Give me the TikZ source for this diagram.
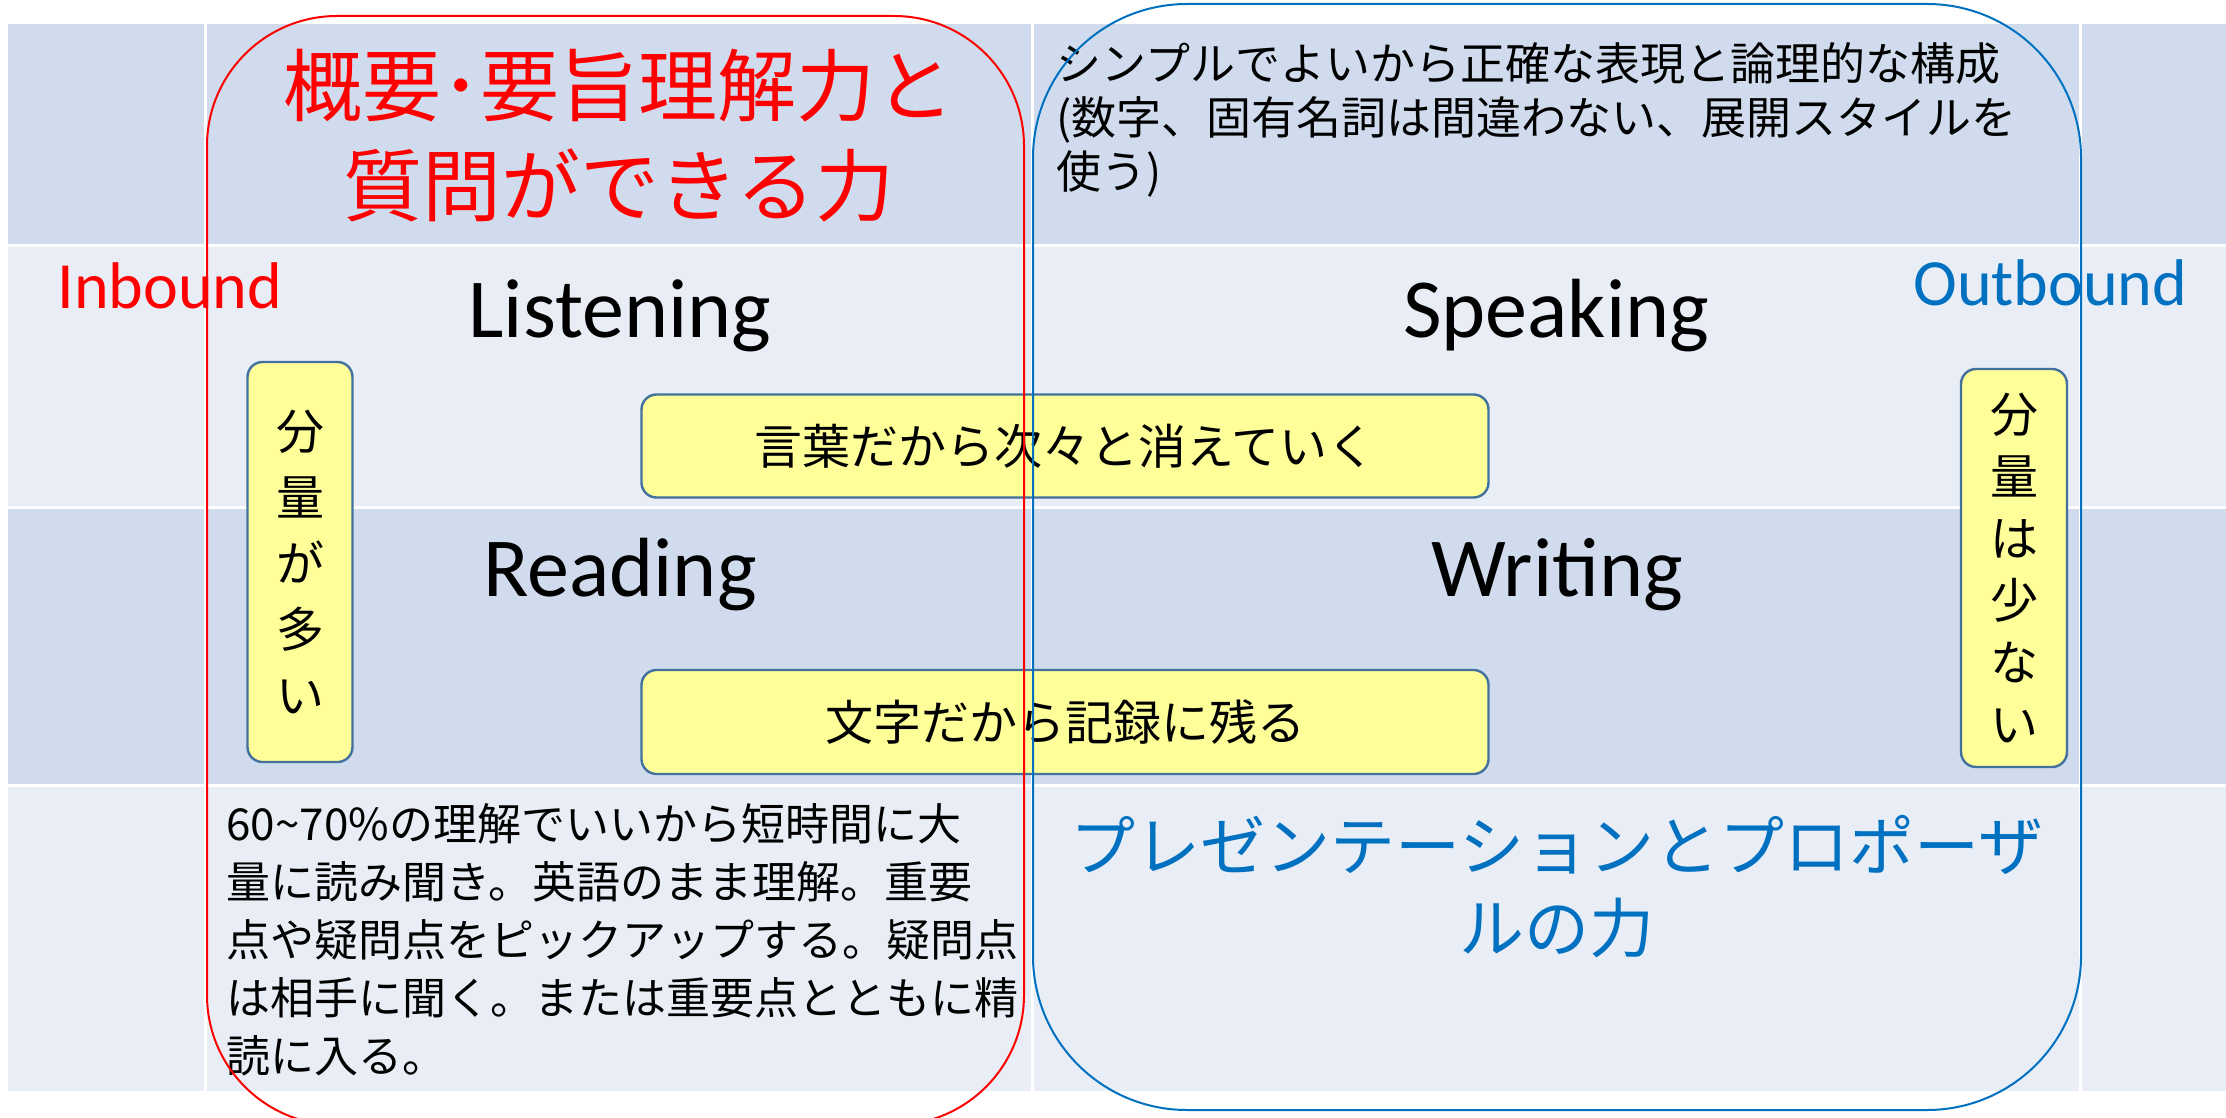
\documentclass[tikz,border=0pt]{standalone}
\usepackage{fontspec}
\setmainfont{Carlito}
\newfontfamily\jp{Noto Sans CJK JP}
\definecolor{bandDark}{HTML}{D0DCEE}
\definecolor{bandLight}{HTML}{E9EEF6}
\definecolor{noteYellow}{HTML}{FFFF99}
\definecolor{noteEdge}{HTML}{41719C}
\definecolor{outBlue}{HTML}{0070C0}
\tikzset{
	%	cell/.style={draw=white,thick},
	grid line/.style={draw=white, line width=1.5pt},
	note/.style={draw=noteEdge, fill=noteYellow, rounded corners=7.5pt, line width=1.2pt,
		font=\jp\fontsize{24}{30}\selectfont},
	skill/.style={font=\fontsize{42}{50}\selectfont, inner sep=0pt, anchor=base},
	way/.style={font=\fontsize{33}{40}\selectfont, inner sep=0pt, anchor=base west},
	ring/.style={line width=1pt}
}

\begin{document}
\begin{tikzpicture}[x=0.5pt, y=-0.5pt]
		\useasboundingbox (0,0) rectangle (2226,1118);
		
		% table
		\fill[bandDark] (8,24) rectangle (2226,246);
		\fill[bandLight] (8,246) rectangle (2226,507);
		\fill[bandDark] (8,507) rectangle (2226,785);
		\fill[bandLight] (8,785) rectangle (2226,1091);
		\foreach \y in {246,507,785} \draw[grid line] (8,\y) -- (2226,\y);
		\foreach \x in {205,1032,2080} \draw[grid line] (\x,24) -- (\x,1091);
		
		\node[skill] (listen) at (620,337) {Listening};
		\node[skill] (speak) at (1556,337) {Speaking};
		\node[skill] (read) at (620,596) {Reading};
		\node[skill] (write) at (1557,596) {Writing};
		
		\node[way, red] (inb) at (57,308) {Inbound};
		\node[way, outBlue] (outb) at (1913,306) {Outbound};
		
		\node[note, minimum width=423.5pt, minimum height=51.5pt] (vanish) at (1065,446) {言葉だから次々と消えていく};
		\node[note, minimum width=423.5pt, minimum height=52pt] (remain) at (1065,722) {文字だから記録に残る};
		\node[note, minimum width=52.5pt, minimum height=200pt, align=center,
			font=\jp\fontsize{24}{33}\selectfont] (much) at (300,562) {分\\量\\が\\多\\い};
		\node[note, minimum width=53pt, minimum height=199pt, align=center,
			font=\jp\fontsize{24}{31}\selectfont] (little) at (2014,568) {分\\量\\は\\少\\な\\い};
		
		\node[red, align=center, inner sep=0pt, font=\jp\fontsize{39.5}{50}\selectfont] (grasp) at (619,136) {概要･要旨理解力と\\質問ができる力};
		\node[outBlue, align=center, inner sep=0pt, font=\jp\fontsize{32.5}{41}\selectfont] (present) at (1557,887) {プレゼンテーションとプロポーザ\\ルの力};
		\node[anchor=west, align=left, inner sep=0pt, font=\jp\fontsize{22.5}{27}\selectfont] (exact) at (1056,120) {シンプルでよいから正確な表現と論理的な構成\\(数字、固有名詞は間違わない、展開スタイルを\\使う)};
		\node[anchor=west, align=left, inner sep=0pt, font=\jp\fontsize{22}{29}\selectfont] (skim) at (226,940) {60\textasciitilde70\%の理解でいいから短時間に大\\量に読み聞き。英語のまま理解。重要\\点や疑問点をピックアップする。疑問点\\は相手に聞く。または重要点とともに精\\読に入る。};
		
		% in / out frames
		\draw[ring, red, rounded corners=65pt] (207,16) rectangle (1024,1125);
		\draw[ring, outBlue, rounded corners=77pt] (1033,4) rectangle (2081,1110);
		\end{tikzpicture}
\end{document}
